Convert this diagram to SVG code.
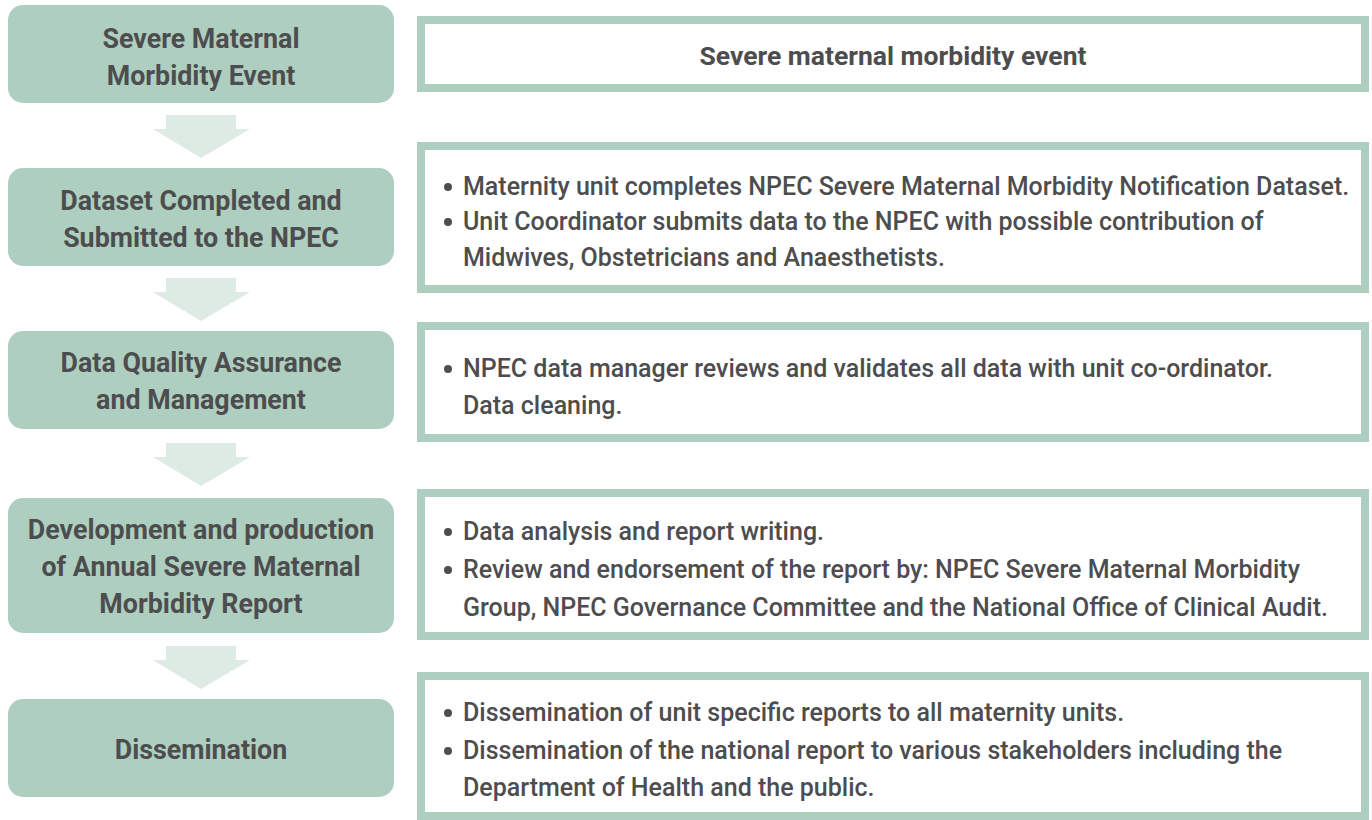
<svg xmlns="http://www.w3.org/2000/svg" width="1372" height="820" viewBox="0 0 1372 820">
<style>
.step{fill:#aecfc0}
.arrow{fill:#deebe4}
.panel{fill:#ffffff;stroke:#aecfc0;stroke-width:8}
.lt{font-family:Roboto,"Liberation Sans",sans-serif;font-weight:700;font-size:26.8px;fill:#4d4d4f;text-anchor:middle}
.rt{font-family:Roboto,"Liberation Sans",sans-serif;font-weight:500;font-size:25px;fill:#4d4d4f}
.rtb{font-family:Roboto,"Liberation Sans",sans-serif;font-weight:700;font-size:26.5px;fill:#4d4d4f;text-anchor:middle}
.dot{fill:#4d4d4f}
</style>
<rect width="1372" height="820" fill="#ffffff"/>
<g id="connectors">
<polygon class="arrow" points="166,115 236,115 236,129 250,129 201,158 153,129 166,129"/>
<polygon class="arrow" points="166,278 236,278 236,292 250,292 201,321 153,292 166,292"/>
<polygon class="arrow" points="166,443 236,443 236,457 250,457 201,486 153,457 166,457"/>
<polygon class="arrow" points="166,646 236,646 236,660 250,660 201,689 153,660 166,660"/>
</g>
<g id="step1">
<rect class="step" x="8" y="5" width="386" height="98" rx="15"/>
<text class="lt" x="201" y="48">Severe Maternal</text>
<text class="lt" x="201" y="85">Morbidity Event</text>
</g>
<g id="step2">
<rect class="step" x="8" y="168" width="386" height="98" rx="15"/>
<text class="lt" x="201" y="210">Dataset Completed and</text>
<text class="lt" x="201" y="247">Submitted to the NPEC</text>
</g>
<g id="step3">
<rect class="step" x="8" y="331" width="386" height="98" rx="15"/>
<text class="lt" x="201" y="372">Data Quality Assurance</text>
<text class="lt" x="201" y="409">and Management</text>
</g>
<g id="step4">
<rect class="step" x="8" y="498" width="386" height="135" rx="15"/>
<text class="lt" x="201" y="539">Development and production</text>
<text class="lt" x="201" y="576">of Annual Severe Maternal</text>
<text class="lt" x="201" y="613">Morbidity Report</text>
</g>
<g id="step5">
<rect class="step" x="8" y="699" width="386" height="98" rx="15"/>
<text class="lt" x="201" y="759">Dissemination</text>
</g>
<g id="panel1">
<rect class="panel" x="421" y="20" width="944" height="68"/>
<text class="rtb" x="893" y="65">Severe maternal morbidity event</text>
</g>
<g id="panel2">
<rect class="panel" x="421" y="146" width="944" height="143"/>
<circle class="dot" cx="448" cy="187" r="4"/>
<text class="rt" x="463" y="195">Maternity unit completes NPEC Severe Maternal Morbidity Notification Dataset.</text>
<circle class="dot" cx="448" cy="222" r="4"/>
<text class="rt" x="463" y="230">Unit Coordinator submits data to the NPEC with possible  contribution of</text>
<text class="rt" x="463" y="266">Midwives, Obstetricians and Anaesthetists.</text>
</g>
<g id="panel3">
<rect class="panel" x="421" y="326" width="944" height="112"/>
<circle class="dot" cx="448" cy="369" r="4"/>
<text class="rt" x="463" y="377">NPEC data manager reviews and validates all data with unit co-ordinator.</text>
<text class="rt" x="463" y="414">Data cleaning.</text>
</g>
<g id="panel4">
<rect class="panel" x="421" y="493" width="944" height="143"/>
<circle class="dot" cx="448" cy="532" r="4"/>
<text class="rt" x="463" y="540">Data analysis and report writing.</text>
<circle class="dot" cx="448" cy="570" r="4"/>
<text class="rt" x="463" y="578">Review and endorsement of the report by: NPEC Severe Maternal Morbidity</text>
<text class="rt" x="463" y="616">Group, NPEC Governance Committee and the National Office of Clinical Audit.</text>
</g>
<g id="panel5">
<rect class="panel" x="421" y="676" width="944" height="140"/>
<circle class="dot" cx="448" cy="713" r="4"/>
<text class="rt" x="463" y="721">Dissemination of unit specific reports to all maternity units.</text>
<circle class="dot" cx="448" cy="751" r="4"/>
<text class="rt" x="463" y="759">Dissemination of the national report to various stakeholders including the</text>
<text class="rt" x="463" y="796">Department of Health and the public.</text>
</g>
</svg>
